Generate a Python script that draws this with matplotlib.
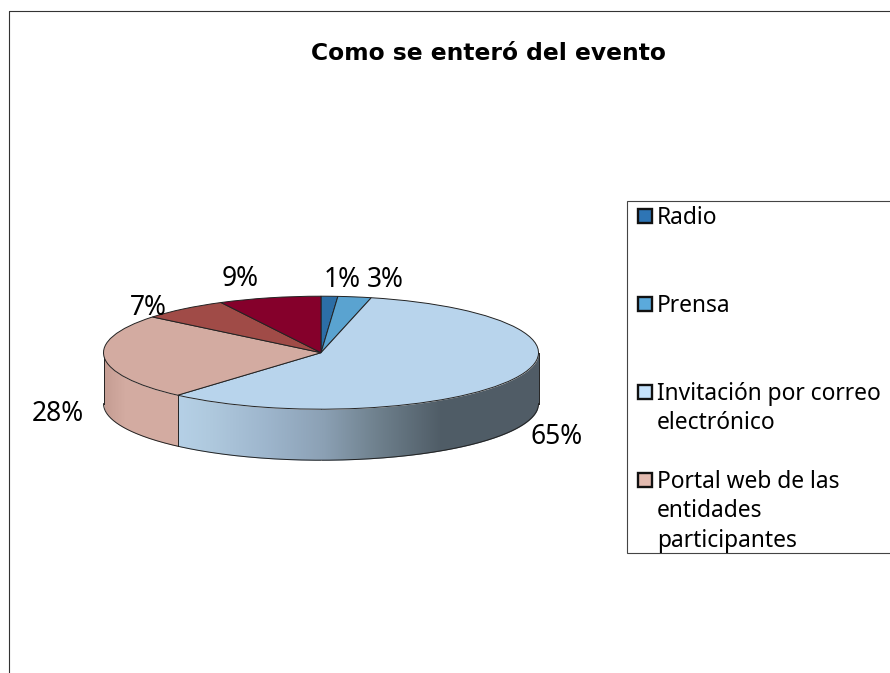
import numpy as np
import matplotlib
matplotlib.use('Agg')
import matplotlib.pyplot as plt
from matplotlib.colors import to_rgb
from matplotlib.patches import Rectangle

plt.rcParams['font.family'] = ['Noto Sans', 'DejaVu Sans']

title = 'Como se enteró del evento'
values = [1.4, 2.8, 65.3, 27.65, 7.35, 8.6]
slice_colors = ['#2C6EA6', '#5AA3D0', '#B8D4EC', '#D3ABA1', '#A04B47', '#85002B']
legend_labels = ['Radio', 'Prensa', 'Invitación por correo\nelectrónico',
                 'Portal web de las\nentidades\nparticipantes']
legend_colors = ['#2E75B5', '#5BAADC', '#C5E2FB', '#E3BBB0']

# pie placement in pixels
W, H = 890, 673
cx, cy = 321, 352.7
rx, ry = 217.5, 56.5
depth = 51 / ry

fig = plt.figure(figsize=(W / 100, H / 100), dpi=100)
ax = fig.add_axes([0, 0, 1, 1])

# side wall, shaded in one pixel strips
total = sum(values)
split_angle = sum(values[:3]) / total * 2 * np.pi
split_x = np.sin(split_angle)
shade_pos = [-0.66, -0.52, -0.25, 0.01, 0.24, 0.55, 1]
shade_cols = [to_rgb(c) for c in ['#B5D0E6', '#AFC9DE', '#9DB5CC', '#8BA0B4', '#70828F', '#4F5C66', '#505C66']]
portal_pos = [-1, -0.9, split_x]
portal_cols = [to_rgb(c) for c in ['#C49C92', '#D3ABA1', '#D3ABA1']]


def wall_color(x):
    if x < split_x:
        return [np.interp(x, portal_pos, [c[i] for c in portal_cols]) for i in range(3)]
    return [np.interp(x, shade_pos, [c[i] for c in shade_cols]) for i in range(3)]


edges = np.linspace(-1, 1, 436)
for x0, x1 in zip(edges[:-1], edges[1:]):
    xs = np.array([x0, x1])
    top = -np.sqrt(1 - xs ** 2)
    col = wall_color((x0 + x1) / 2)
    ax.fill_between(xs, top, top - depth, color=col, lw=0, antialiased=False, zorder=1)

# wall outline
xs = np.sin(np.linspace(-np.pi / 2, np.pi / 2, 300))
ax.plot(xs, -np.sqrt(1 - xs ** 2) - depth, color='#222222', lw=0.7, zorder=2)
ax.plot([-1, -1], [0, -depth], color='#222222', lw=0.7, zorder=2)
ax.plot([1, 1], [0, -depth], color='#222222', lw=0.7, zorder=2)
split_y = -np.sqrt(1 - split_x ** 2)
ax.plot([split_x, split_x], [split_y, split_y - depth], color='#222222', lw=0.7, zorder=2)

wedges, _ = ax.pie(values, colors=slice_colors, startangle=90, counterclock=False, radius=1,
                   wedgeprops={'edgecolor': '#222222', 'linewidth': 0.7, 'zorder': 3})
ax.set_aspect('auto')
ax.set_xlim(-cx / rx, (W - cx) / rx)
ax.set_ylim(-(H - cy) / ry, cy / ry)
ax.axis('off')

# overlay in pixel coordinates for frame and text
ov = fig.add_axes([0, 0, 1, 1], facecolor='none')
ov.set_xlim(0, W)
ov.set_ylim(H, 0)
ov.axis('off')

ov.plot([9, 9, W], [H, 10.5, 10.5], color='#333333', lw=0.8)
ov.add_patch(Rectangle((626.5, 200.5), W, 352, fc='white', ec='#444444', lw=0.8))

ov.text(488, 54, title, ha='center', va='center', fontsize=16.8, fontweight='bold', family='DejaVu Sans')

label_pos = [(342, 280), (385, 280), (557, 437), (58, 414), (148, 308), (240, 279)]
for v, (x, y) in zip(values, label_pos):
    ov.text(x, y, f'{v:.0f}%', ha='center', va='center', fontsize=19)

legend_y = [216, 304, 392, 480]
for lab, col, y in zip(legend_labels, legend_colors, legend_y):
    ov.add_patch(Rectangle((637.5, y - 7.5), 14.5, 14.5, fc=col, ec='#111111', lw=1.7))
    ov.text(657, y - 10, lab, ha='left', va='top', fontsize=16.4, linespacing=1.3)

fig.savefig('out.png', dpi=100)
